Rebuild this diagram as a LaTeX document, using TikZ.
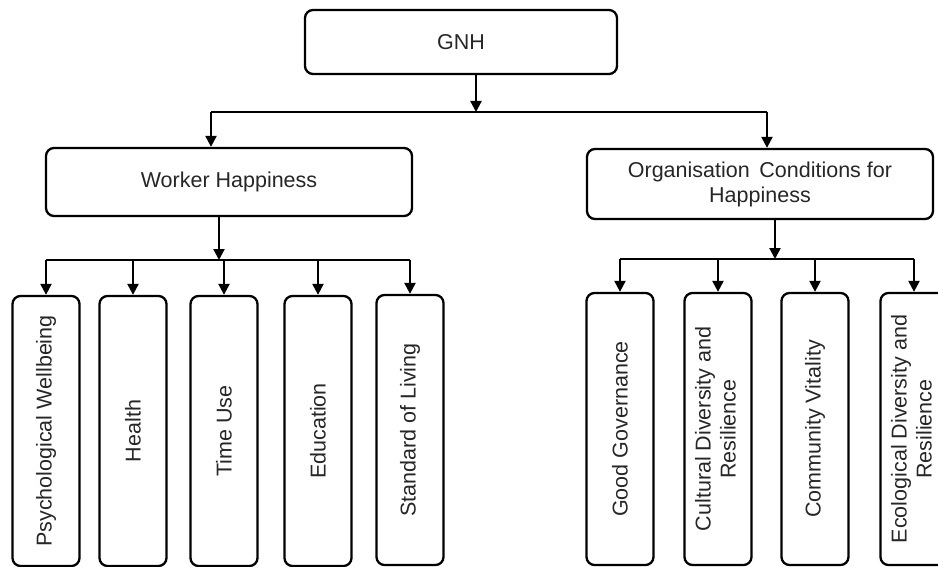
\documentclass[tikz,border=0pt]{standalone}
\usepackage{fontspec}
\setmainfont{Liberation Sans}
\usetikzlibrary{arrows.meta,positioning}

\begin{document}
\begin{tikzpicture}
	[x=1pt,y=-1pt,
	font=\fontsize{21.5}{25}\selectfont,
	main node/.style={shape=rectangle,draw,rounded corners=8pt,line width=2.3pt,text=black!85,inner sep=2pt,align=center},
	head node/.style={main node,minimum height=66pt},
	leaf node/.style={main node,minimum width=67pt,minimum height=270pt},
	link/.style={line width=2.3pt},
	arrow/.style={link,-{Triangle[width=11pt,length=11pt]}}]
	\useasboundingbox (0,0) rectangle (938,567);
	
	\node [head node,minimum width=312pt,minimum height=64pt] (gnh) at (461,42) {GNH};
	\node [head node,minimum width=366pt,minimum height=68pt] (worker) at (229,182) {Worker Happiness};
	\node [head node,minimum width=346pt,minimum height=70pt] (org) at (760,184) {Organisation\hspace{0.45em}Conditions for\\Happiness};
	
	\node [leaf node] (w1) at (46,431) {\rotatebox{90}{Psychological Wellbeing}};
	\node [leaf node] (w2) at (133,431) {\rotatebox{90}{Health}};
	\node [leaf node] (w3) at (224,431) {\rotatebox{90}{Time Use}};
	\node [leaf node] (w4) at (318,431) {\rotatebox{90}{Education}};
	\node [leaf node] (w5) at (410,430) {\rotatebox{90}{Standard of Living}};
	
	\node [leaf node,minimum height=272pt] (o1) at (620,429) {\rotatebox{90}{Good Governance}};
	\node [leaf node,minimum height=272pt] (o2) at (718,429) {\rotatebox{90}{\begin{tabular}{@{}c@{}}Cultural Diversity and\\Resilience\end{tabular}}};
	\node [leaf node,minimum height=272pt] (o3) at (815,429) {\rotatebox{90}{Community Vitality}};
	\node [leaf node,minimum height=272pt] (o4) at (914,429) {\rotatebox{90}{\begin{tabular}{@{}c@{}}Ecological Diversity and\\Resilience\end{tabular}}};
	
	\coordinate (gsplit) at (476,112);
	\coordinate (wsplit) at (219,260);
	\coordinate (osplit) at (775,259);
	\coordinate (gleft) at (211,112);
	\coordinate (gright) at (767,112);
	
	\draw [arrow] (gnh.south -| gsplit) -- (gsplit);
	\draw [link] (gleft) -- (gright);
	\draw [arrow] (gleft) -- (gleft |- worker.north);
	\draw [arrow] (gright) -- (gright |- org.north);
	
	\draw [arrow] (worker.south -| wsplit) -- (wsplit);
	\draw [link] (w1 |- wsplit) -- (w5 |- wsplit);
	\foreach \i in {1,...,5}
		\draw [arrow] (w\i |- wsplit) -- (w\i.north);
	
	\draw [arrow] (org.south -| osplit) -- (osplit);
	\draw [link] (o1 |- osplit) -- (o4 |- osplit);
	\foreach \i in {1,...,4}
		\draw [arrow] (o\i |- osplit) -- (o\i.north);
	
\end{tikzpicture}
\end{document}
